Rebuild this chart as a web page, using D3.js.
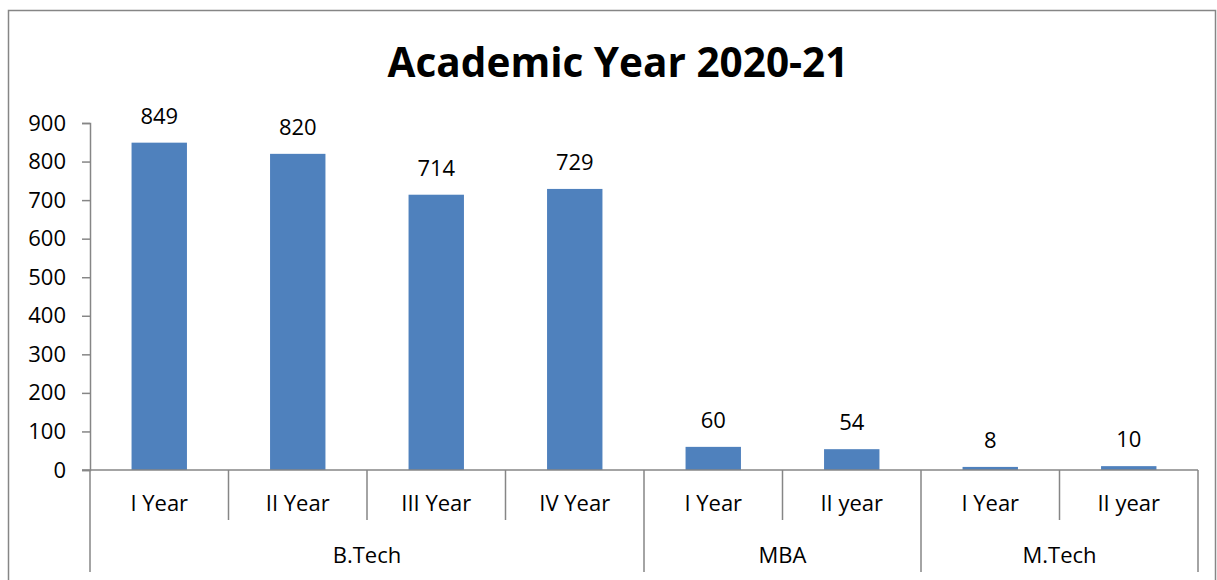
<!DOCTYPE html>
<html>
<head>
<meta charset="utf-8">
<script src="https://cdn.jsdelivr.net/npm/d3@7"></script>
<style>
  body { margin: 0; background: #fff; }
  svg text { font-family: "Open Sans", "Noto Sans", sans-serif; fill: #000; }
</style>
</head>
<body>
<svg id="chart" width="1217" height="580"></svg>
<script>
// data
var groups = ["B.Tech", "B.Tech", "B.Tech", "B.Tech", "MBA", "MBA", "M.Tech", "M.Tech"];
var years = ["I Year", "II Year", "III Year", "IV Year", "I Year", "II year", "I Year", "II year"];
var students = [849, 820, 714, 729, 60, 54, 8, 10];
var yTicks = [0, 100, 200, 300, 400, 500, 600, 700, 800, 900];

var svg = d3.select("#chart");
var plotLeft = 90, plotRight = 1198, plotTop = 123, plotBottom = 470;
var axisColor = "#868686";

// outer frame
svg.append("rect")
    .attr("x", 8.5).attr("y", 10.5)
    .attr("width", 1207).attr("height", 600)
    .attr("fill", "none").attr("stroke", axisColor).attr("stroke-width", 1.5);

svg.append("text")
    .attr("x", 618).attr("y", 77)
    .attr("text-anchor", "middle")
    .style("font-size", "40.5px").style("font-weight", "bold")
    .text("Academic Year 2020-21");

var idx = d3.range(students.length);
var x = d3.scaleBand().domain(idx).range([plotLeft, plotRight]).paddingInner(0).paddingOuter(0);
var y = d3.scaleLinear().domain([0, 900]).range([plotBottom, plotTop]);
var barW = x.bandwidth() * 0.4;

// y axis
var yAxis = d3.axisLeft(y).tickValues(yTicks).tickSize(8).tickPadding(16);
var gy = svg.append("g").attr("transform", "translate(" + plotLeft + ",0)").call(yAxis);
gy.select(".domain").attr("stroke", axisColor).attr("stroke-width", 1.5);
gy.selectAll(".tick line").attr("stroke", axisColor).attr("stroke-width", 1.5);
gy.selectAll(".tick text").style("font-size", "22px").attr("fill", "#000");

// bars
svg.selectAll("rect.bar").data(idx).enter().append("rect")
    .attr("class", "bar")
    .attr("x", function(i) { return x(i) + (x.bandwidth() - barW) / 2; })
    .attr("y", function(i) { return y(students[i]); })
    .attr("width", barW)
    .attr("height", function(i) { return y(0) - y(students[i]); })
    .attr("fill", "#4F81BD");

// value labels
svg.selectAll("text.val").data(idx).enter().append("text")
    .attr("class", "val")
    .attr("x", function(i) { return x(i) + x.bandwidth() / 2; })
    .attr("y", function(i) { return y(students[i]) - 19; })
    .attr("text-anchor", "middle")
    .style("font-size", "22px")
    .text(function(i) { return students[i]; });

// category axis baseline
svg.append("line")
    .attr("x1", plotLeft - 8).attr("x2", plotRight)
    .attr("y1", plotBottom).attr("y2", plotBottom)
    .attr("stroke", axisColor).attr("stroke-width", 1.5);

// dividers between years, longer ones between groups
var edges = d3.range(students.length + 1);
svg.selectAll("line.div").data(edges).enter().append("line")
    .attr("class", "div")
    .attr("x1", function(k) { return k < students.length ? x(k) : plotRight; })
    .attr("x2", function(k) { return k < students.length ? x(k) : plotRight; })
    .attr("y1", plotBottom)
    .attr("y2", function(k) {
        var isGroupEdge = k == 0 || k == students.length || groups[k] != groups[k - 1];
        return isGroupEdge ? 572 : 520;
    })
    .attr("stroke", axisColor).attr("stroke-width", 1.5);

svg.selectAll("text.year").data(idx).enter().append("text")
    .attr("class", "year")
    .attr("x", function(i) { return x(i) + x.bandwidth() / 2; })
    .attr("y", 511)
    .attr("text-anchor", "middle")
    .style("font-size", "22px")
    .text(function(i) { return years[i]; });

// group labels
var groupNames = Array.from(new Set(groups));
svg.selectAll("text.grp").data(groupNames).enter().append("text")
    .attr("class", "grp")
    .attr("x", function(g) {
        var first = groups.indexOf(g), last = groups.lastIndexOf(g);
        return (x(first) + x(last) + x.bandwidth()) / 2;
    })
    .attr("y", 563)
    .attr("text-anchor", "middle")
    .style("font-size", "22px")
    .text(function(g) { return g; });
</script>
</body>
</html>
